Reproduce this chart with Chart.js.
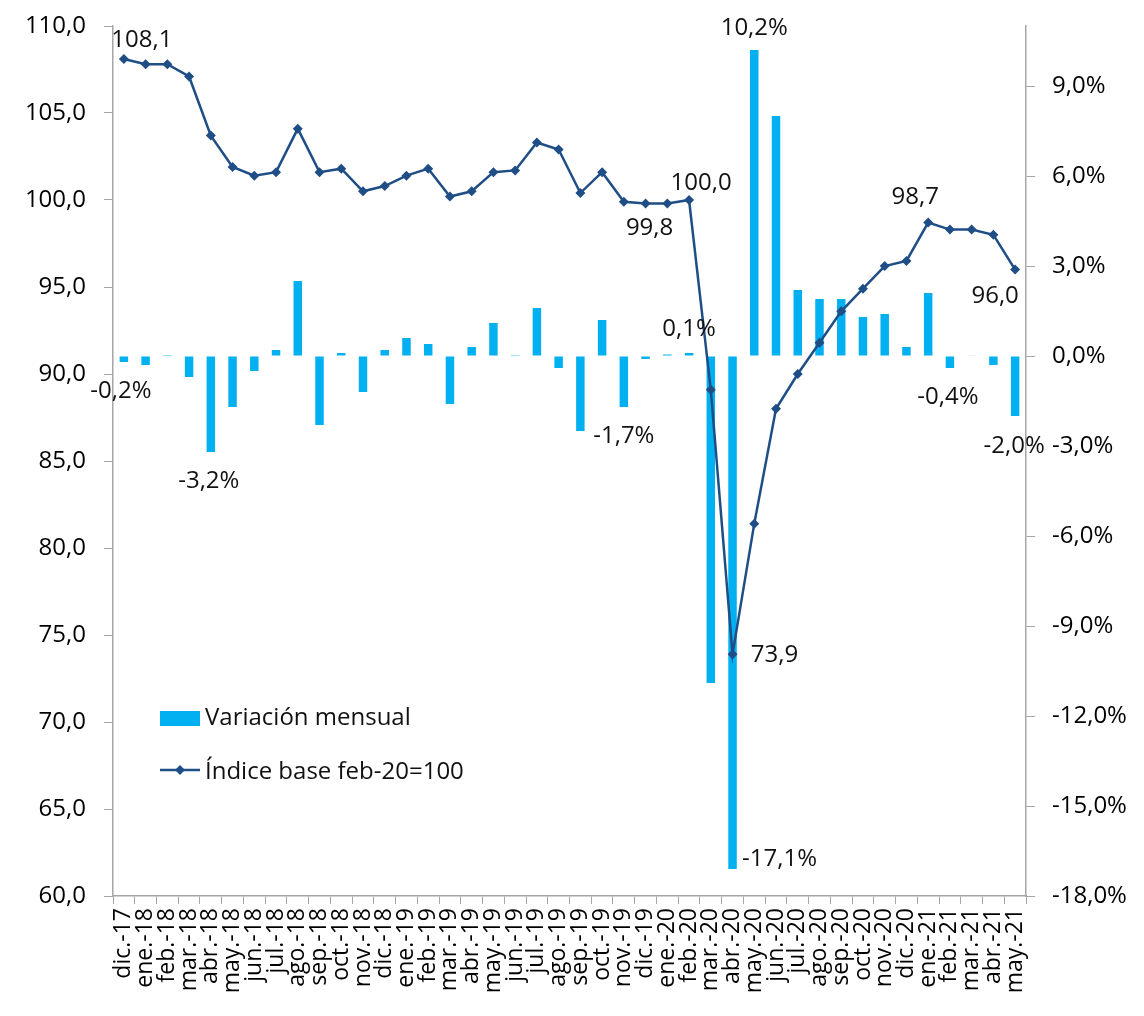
<!DOCTYPE html>
<html>
<head>
<meta charset="utf-8">
<script src="https://cdn.jsdelivr.net/npm/chart.js@4.4.1/dist/chart.umd.min.js"></script>
<style>
  html, body { margin: 0; padding: 0; background: #fff; }
  #wrap { width: 1144px; height: 1016px; position: relative; }
</style>
</head>
<body>
<div id="wrap"><canvas id="chart"></canvas></div>
<script>
// categories (dic.-17 .. may.-21)
const months = ["dic.-17",
  "ene.-18","feb.-18","mar.-18","abr.-18","may.-18","jun.-18","jul.-18","ago.-18","sep.-18","oct.-18","nov.-18","dic.-18",
  "ene.-19","feb.-19","mar.-19","abr.-19","may.-19","jun.-19","jul.-19","ago.-19","sep.-19","oct.-19","nov.-19","dic.-19",
  "ene.-20","feb.-20","mar.-20","abr.-20","may.-20","jun.-20","jul.-20","ago.-20","sep.-20","oct.-20","nov.-20","dic.-20",
  "ene.-21","feb.-21","mar.-21","abr.-21","may.-21"];

// monthly variation (%), right axis
const variacion = [-0.2,
  -0.3, 0.03, -0.7, -3.2, -1.7, -0.5, 0.2, 2.5, -2.3, 0.1, -1.2, 0.2,
  0.6, 0.4, -1.6, 0.3, 1.1, 0.03, 1.6, -0.4, -2.5, 1.2, -1.7, -0.1,
  0.05, 0.1, -10.9, -17.1, 10.2, 8.0, 2.2, 1.9, 1.9, 1.3, 1.4, 0.3,
  2.1, -0.4, 0.02, -0.3, -2.0];

// index feb-20=100, left axis
const indice = [108.1,
  107.8, 107.8, 107.1, 103.7, 101.9, 101.4, 101.6, 104.1, 101.6, 101.8, 100.5, 100.8,
  101.4, 101.8, 100.2, 100.5, 101.6, 101.7, 103.3, 102.9, 100.4, 101.6, 99.9, 99.8,
  99.8, 100.0, 89.1, 73.9, 81.4, 88.0, 90.0, 91.8, 93.6, 94.9, 96.2, 96.5,
  98.7, 98.3, 98.3, 98.0, 96.0];

const leftTicks = { min: 60, max: 110, step: 5 };
const rightTicks = { min: -18, max: 11, step: 3 };

// which points get a value label, and where it sits relative to the mark
const barLabels = [
  { i: 0, dx: -3, dy: 29 }, { i: 4, dx: -2, dy: 29 }, { i: 23, dx: 0, dy: 29 },
  { i: 26, dx: 0, dy: -24 }, { i: 29, dx: 0, dy: -22 }, { i: 28, dx: 47, dy: -10 },
  { i: 38, dx: -2, dy: 29 }, { i: 41, dx: -1, dy: 30 }
];
const lineLabels = [
  { i: 0, dx: 18, dy: -19 }, { i: 24, dx: 4, dy: 25 }, { i: 26, dx: 12, dy: -17 },
  { i: 28, dx: 42, dy: 1 }, { i: 37, dx: -13, dy: -25 }, { i: 41, dx: -20, dy: 27 }
];

const BAR_COLOR = "#00b0f0";
const LINE_COLOR = "#1f4e86";
const AXIS_COLOR = "#a6a6a6";
const FONT = "'Open Sans', 'Noto Sans', sans-serif";

const comma = (v, d) => v.toFixed(d).replace(".", ",");

Chart.defaults.font.family = FONT;
Chart.defaults.font.size = 24;
Chart.defaults.color = "#000";

const valueLabels = {
  id: "valueLabels",
  afterDatasetsDraw(chart) {
    const ctx = chart.ctx;
    ctx.save();
    ctx.font = "24px " + FONT;
    ctx.fillStyle = "#111";
    ctx.textAlign = "center";
    ctx.textBaseline = "middle";
    const barMeta = chart.getDatasetMeta(1);
    const lineMeta = chart.getDatasetMeta(0);
    barLabels.forEach(l => {
      const el = barMeta.data[l.i];
      ctx.fillText(comma(variacion[l.i], 1) + "%", el.x + l.dx, el.y + l.dy);
    });
    lineLabels.forEach(l => {
      const el = lineMeta.data[l.i];
      ctx.fillText(comma(indice[l.i], 1), el.x + l.dx, el.y + l.dy);
    });
    ctx.restore();
  }
};

// legend drawn inside the plot area, lower left
const innerLegend = {
  id: "innerLegend",
  afterDraw(chart) {
    const ctx = chart.ctx;
    const x0 = chart.chartArea.left + 47;
    const y0 = chart.chartArea.top + 685;
    ctx.save();
    ctx.fillStyle = BAR_COLOR;
    ctx.fillRect(x0, y0, 40, 15);
    ctx.strokeStyle = LINE_COLOR;
    ctx.lineWidth = 2.5;
    ctx.beginPath();
    ctx.moveTo(x0, y0 + 59);
    ctx.lineTo(x0 + 40, y0 + 59);
    ctx.stroke();
    ctx.fillStyle = LINE_COLOR;
    ctx.beginPath();
    ctx.moveTo(x0 + 20, y0 + 54);
    ctx.lineTo(x0 + 25, y0 + 59);
    ctx.lineTo(x0 + 20, y0 + 64);
    ctx.lineTo(x0 + 15, y0 + 59);
    ctx.closePath();
    ctx.fill();
    ctx.fillStyle = "#111";
    ctx.font = "24px " + FONT;
    ctx.textBaseline = "middle";
    ctx.textAlign = "left";
    ctx.fillText(chart.data.datasets[1].label, x0 + 45, y0 + 7);
    ctx.fillText(chart.data.datasets[0].label, x0 + 45, y0 + 61);
    ctx.restore();
  }
};

// fixed axis sizes so the plot area sits where the original one does
const fitY = w => s => { s.width = w; s.paddingTop = 0; s.paddingBottom = 0; };

new Chart(document.getElementById("chart"), {
  type: "bar",
  data: {
    labels: months,
    datasets: [
      {
        type: "line",
        label: "Índice base feb-20=100",
        data: indice,
        yAxisID: "y",
        order: 0,
        borderColor: LINE_COLOR,
        backgroundColor: LINE_COLOR,
        borderWidth: 2.5,
        pointStyle: "rectRot",
        pointRadius: 5,
        pointBackgroundColor: LINE_COLOR,
        pointBorderWidth: 0,
        tension: 0
      },
      {
        label: "Variación mensual",
        data: variacion,
        yAxisID: "y1",
        order: 1,
        backgroundColor: BAR_COLOR,
        barPercentage: 0.39,
        categoryPercentage: 1
      }
    ]
  },
  options: {
    responsive: true,
    maintainAspectRatio: false,
    animation: false,
    layout: { padding: { top: 26, left: 0, right: 0, bottom: 0 } },
    plugins: {
      legend: { display: false },
      tooltip: { enabled: false }
    },
    scales: {
      x: {
        offset: true,
        grid: { drawOnChartArea: false, offset: true, color: AXIS_COLOR, tickLength: 8 },
        border: { color: AXIS_COLOR, width: 1.5 },
        ticks: { minRotation: 90, maxRotation: 90, autoSkip: false, padding: 4, font: { size: 23 } },
        afterFit: s => { s.height = 120; s.paddingLeft = 0; s.paddingRight = 0; }
      },
      y: {
        position: "left",
        min: leftTicks.min,
        max: leftTicks.max,
        grid: { drawOnChartArea: false, color: AXIS_COLOR, tickLength: 9 },
        border: { color: AXIS_COLOR, width: 1.5 },
        ticks: { stepSize: leftTicks.step, padding: 18, callback: v => comma(v, 1) },
        afterFit: fitY(113)
      },
      y1: {
        position: "right",
        min: rightTicks.min,
        max: rightTicks.max,
        grid: { drawOnChartArea: false, color: AXIS_COLOR, tickLength: 9 },
        border: { color: AXIS_COLOR, width: 1.5 },
        ticks: { stepSize: rightTicks.step, padding: 17, callback: v => comma(v, 1) + "%" },
        afterBuildTicks: s => {
          s.ticks = s.ticks.filter(t => Math.abs(t.value % rightTicks.step) < 1e-6);
        },
        afterFit: fitY(118)
      }
    }
  },
  plugins: [valueLabels, innerLegend]
});
</script>
</body>
</html>
